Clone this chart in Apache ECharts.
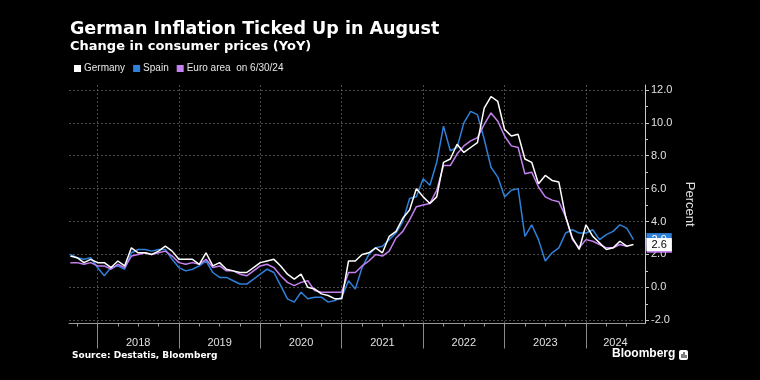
<!DOCTYPE html>
<html><head><meta charset="utf-8">
<script src="https://cdn.jsdelivr.net/npm/echarts@6/dist/echarts.min.js"></script>
<style>html,body{margin:0;padding:0;background:#000}#c{width:760px;height:380px}</style>
</head><body><div id="c"></div>
<script>
// Monthly categories: Aug 2017 .. Jul 2024 (month-end observations)
const startYear = 2017, startMonth = 8, monthCount = 84;
const months = [];
for (let i = 0; i < monthCount; i++) {
  const m = (startMonth - 1 + i) % 12 + 1;
  const y = startYear + Math.floor((startMonth - 1 + i) / 12);
  months.push(y + '-' + String(m).padStart(2, '0'));
}
const germany = [
  1.9, 1.8, 1.5, 1.7, 1.5,
  1.5, 1.2, 1.6, 1.3, 2.4, 2.1, 2.1, 2.0, 2.2, 2.5, 2.2, 1.7,
  1.7, 1.7, 1.4, 2.1, 1.3, 1.5, 1.1, 1.0, 0.9, 0.9, 1.2, 1.5,
  1.6, 1.7, 1.3, 0.8, 0.5, 0.8, 0.0, -0.1, -0.4, -0.5, -0.7, -0.7,
  1.6, 1.6, 2.0, 2.1, 2.4, 2.1, 3.1, 3.4, 4.2, 4.7, 6.0, 5.5,
  5.1, 5.5, 7.6, 7.8, 8.7, 8.2, 8.5, 8.8, 10.9, 11.6, 11.3, 9.6,
  9.2, 9.3, 7.8, 7.6, 6.3, 6.8, 6.5, 6.4, 4.3, 3.0, 2.3, 3.8,
  3.1, 2.7, 2.3, 2.4, 2.8, 2.5, 2.6
];
const spain = [
  2.0, 1.8, 1.7, 1.8, 1.2,
  0.7, 1.2, 1.3, 1.1, 2.1, 2.3, 2.3, 2.2, 2.3, 2.3, 1.7, 1.2,
  1.0, 1.1, 1.3, 1.6, 0.9, 0.6, 0.6, 0.4, 0.2, 0.2, 0.5, 0.8,
  1.1, 0.9, 0.1, -0.7, -0.9, -0.3, -0.7, -0.6, -0.6, -0.9, -0.8, -0.6,
  0.4, -0.1, 1.2, 2.0, 2.4, 2.5, 2.9, 3.3, 4.0, 5.4, 5.5, 6.6,
  6.2, 7.6, 9.8, 8.3, 8.5, 10.0, 10.7, 10.5, 9.0, 7.3, 6.7, 5.5,
  5.9, 6.0, 3.1, 3.8, 2.9, 1.6, 2.1, 2.4, 3.3, 3.5, 3.3, 3.3,
  3.5, 2.9, 3.2, 3.4, 3.8, 3.6, 2.9
];
const euroArea = [
  1.5, 1.5, 1.4, 1.5, 1.3,
  1.3, 1.1, 1.4, 1.2, 1.9, 2.0, 2.1, 2.0, 2.1, 2.2, 1.9, 1.5,
  1.4, 1.5, 1.4, 1.7, 1.2, 1.3, 1.0, 1.0, 0.8, 0.7, 1.0, 1.3,
  1.4, 1.2, 0.7, 0.3, 0.1, 0.3, 0.4, -0.2, -0.3, -0.3, -0.3, -0.3,
  0.9, 0.9, 1.3, 1.6, 2.0, 1.9, 2.2, 3.0, 3.4, 4.1, 4.9, 5.0,
  5.1, 5.9, 7.4, 7.4, 8.1, 8.6, 8.9, 9.1, 9.9, 10.6, 10.1, 9.2,
  8.6, 8.5, 6.9, 7.0, 6.1, 5.5, 5.3, 5.2, 4.3, 2.9, 2.4, 2.9,
  2.8, 2.6, 2.4, 2.4, 2.6, 2.5
];
const seriesNames = ['Germany', 'Spain', 'Euro area'];
const euroNote = 'on 6/30/24';
const yearLabels = ['2018', '2019', '2020', '2021', '2022', '2023', '2024'];
const yTickValues = [-2, 0, 2, 4, 6, 8, 10, 12];
const yMinorValues = [-1, 1, 3, 5, 7, 9, 11];

const colors = { 'Germany': '#ffffff', 'Spain': '#2f80d8', 'Euro area': '#c580f0' };
const xMin = -0.2, xMax = 84.7, yMin = -2.2, yMax = 12.3;
const gridL = 69, gridR = 115, gridT = 85, gridB = 56.5;
const gridW = 760 - gridL - gridR, gridH = 380 - gridT - gridB;
const decIdx = [], quarterIdx = [];
months.forEach((m, i) => {
  const mm = +m.slice(5);
  if (mm === 12) decIdx.push(i);
  if (mm % 3 === 0) quarterIdx.push(i);
});
const labelPos = decIdx.map(d => (d + Math.min(d + 12, xMax)) / 2);

const toPairs = arr => arr.map((v, i) => [i, v]);
const font = "'Liberation Sans', Arial, sans-serif";

function lineSeries(name, data, z, dx, textColor) {
  return {
    name, type: 'line', data: toPairs(data), showSymbol: false, symbol: 'none',
    z, lineStyle: { width: 1.5, color: colors[name] }, itemStyle: { color: colors[name] },
    animation: false,
    endLabel: {
      show: true, formatter: p => p.value[1].toFixed(1), distance: 0, offset: [dx, 0],
      align: 'left', verticalAlign: 'middle',
      backgroundColor: colors[name], color: textColor, padding: [1, 5, 1, 5],
      fontSize: 11, fontFamily: font
    }
  };
}

const chart = echarts.init(document.getElementById('c'), null, { renderer: 'canvas' });
chart.setOption({
  backgroundColor: '#000',
  animation: false,
  title: [
    { text: 'German Inflation Ticked Up in August', left: 70, top: 20, padding: 0,
      textStyle: { color: '#fff', fontSize: 17.5, fontWeight: 'bold', fontFamily: 'DejaVu Sans' } },
    { text: 'Change in consumer prices (YoY)', left: 70, top: 40.5, padding: 0,
      textStyle: { color: '#fff', fontSize: 13, fontWeight: 'bold', fontFamily: 'DejaVu Sans' } },
    { text: 'Source: Destatis, Bloomberg', left: 72, top: 351, padding: 0,
      textStyle: { color: '#fff', fontSize: 9, fontWeight: 'bold', fontFamily: 'DejaVu Sans' } }
  ],
  legend: {
    left: 74, top: 63.5, padding: 0, icon: 'rect', itemWidth: 7, itemHeight: 7, itemGap: 8,
    data: seriesNames,
    formatter: n => n === 'Euro area' ? n + '  ' + euroNote : n,
    textStyle: { color: '#e6e6e6', fontSize: 10, fontFamily: font, padding: [0, 0, 0, -2] }
  },
  grid: { left: gridL, right: gridR, top: gridT, bottom: gridB },
  xAxis: [
    { type: 'value', min: xMin, max: xMax, position: 'bottom',
      axisLine: { show: true, onZero: false, lineStyle: { color: '#9a9a9a', width: 1 } },
      axisTick: { show: true, customValues: decIdx, length: 25, lineStyle: { color: '#8a8a8a' } },
      axisLabel: { show: true, customValues: labelPos, margin: 14, color: '#e0e0e0', fontSize: 11, fontFamily: font,
        formatter: v => { const k = labelPos.findIndex(p => Math.abs(p - v) < 1e-6); return k >= 0 ? yearLabels[k] : ''; } },
      splitLine: { show: true, lineStyle: { color: '#4a4a4a', type: [2, 2], width: 1 } }
    },
    { type: 'value', min: xMin, max: xMax, position: 'top', offset: -gridH,
      axisLine: { show: false, onZero: false },
      axisTick: { show: true, inside: true, customValues: quarterIdx, length: 3, lineStyle: { color: '#9a9a9a' } },
      axisLabel: { show: false }, splitLine: { show: false }
    }
  ],
  yAxis: [
    { type: 'value', min: yMin, max: yMax, position: 'right',
      name: 'Percent', nameLocation: 'middle', nameRotate: -90, nameGap: 24,
      nameTextStyle: { color: '#e0e0e0', fontSize: 13, fontFamily: font },
      axisLine: { show: true, onZero: false, lineStyle: { color: '#c8c8c8', width: 1 } },
      axisTick: { show: true, customValues: yTickValues, length: 4, lineStyle: { color: '#c8c8c8' } },
      axisLabel: { customValues: yTickValues, margin: 6, color: '#e0e0e0', fontSize: 11, fontFamily: font,
        formatter: v => v.toFixed(1) },
      splitLine: { show: true, lineStyle: { color: '#4a4a4a', type: [2, 2], width: 1 } }
    },
    { type: 'value', min: yMin, max: yMax, position: 'left', offset: -gridW,
      axisLine: { show: false, onZero: false },
      axisTick: { show: true, inside: true, customValues: yMinorValues, length: 3, lineStyle: { color: '#c8c8c8' } },
      axisLabel: { show: false }, splitLine: { show: false }
    }
  ],
  series: [
    lineSeries('Spain', spain, 2, 13, '#ffffff'),
    lineSeries('Euro area', euroArea, 3, 20, '#000000'),
    lineSeries('Germany', germany, 4, 13, '#000000')
  ],
  graphic: [
    { type: 'text', left: 612, top: 348, style: { text: 'Bloomberg', fill: '#fff', font: "bold 12px 'Liberation Sans', Arial, sans-serif" } },
    { type: 'rect', left: 679, top: 350, shape: { width: 9, height: 10, r: 2 }, style: { fill: '#fff' } },
    { type: 'rect', left: 681.5, top: 354, shape: { width: 1, height: 4 }, style: { fill: '#000' } },
    { type: 'rect', left: 683.5, top: 352, shape: { width: 1, height: 6 }, style: { fill: '#000' } },
    { type: 'rect', left: 685.5, top: 355, shape: { width: 1, height: 3 }, style: { fill: '#000' } }
  ]
});
</script></body></html>
